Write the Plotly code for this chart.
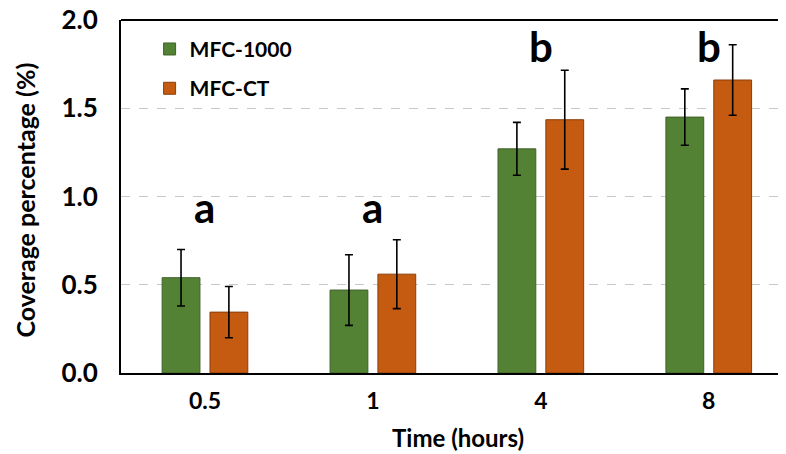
import plotly.graph_objects as go

categories = ["0.5", "1", "4", "8"]
mfc1000 = [0.54, 0.47, 1.27, 1.45]
mfc1000_err = [0.16, 0.20, 0.15, 0.16]
mfcct = [0.345, 0.56, 1.435, 1.66]
mfcct_err = [0.145, 0.195, 0.28, 0.20]
letters = ["a", "a", "b", "b"]
letter_y = [0.94, 0.94, 1.85, 1.85]

FONT = "Lato"

fig = go.Figure()
fig.add_trace(go.Bar(
    x=categories, y=mfc1000, name="MFC-1000", legendgroup="g1",
    marker=dict(color="#548235", line=dict(color="#3E6127", width=1)),
    error_y=dict(type="data", array=mfc1000_err, color="black", thickness=1.6, width=4),
))
fig.add_trace(go.Bar(
    x=categories, y=mfcct, name="MFC-CT", legendgroup="g2",
    marker=dict(color="#C55A11", line=dict(color="#8A3E0B", width=1)),
    error_y=dict(type="data", array=mfcct_err, color="black", thickness=1.6, width=4),
))

for i, (t, yv) in enumerate(zip(letters, letter_y)):
    fig.add_annotation(x=i, y=yv, text=f"<b>{t}</b>", showarrow=False,
                       xanchor="center", yanchor="middle",
                       font=dict(family=FONT, size=42, color="black"))

fig.add_annotation(xref="paper", yref="paper", x=-0.145, y=0.49,
                   xanchor="center", yanchor="middle", textangle=-90,
                   text="<b>Coverage percentage (%)</b>", showarrow=False,
                   font=dict(family=FONT, size=25, color="black"))
fig.add_annotation(xref="paper", yref="paper", x=0.507, y=-0.184,
                   xanchor="center", yanchor="middle",
                   text="<b>Time (hours)</b>", showarrow=False,
                   font=dict(family=FONT, size=24, color="black"))

fig.update_layout(
    width=778, height=446,
    margin=dict(l=113, r=0, t=12, b=81),
    paper_bgcolor="white", plot_bgcolor="white",
    barmode="group", bargap=0.43, bargroupgap=0.21,
    font=dict(family=FONT, color="black"),
    legend=dict(x=0.043, y=0.975, xanchor="left", yanchor="top",
                font=dict(family=FONT, size=21, color="black", weight="bold"),
                bgcolor="rgba(0,0,0,0)", traceorder="grouped", tracegroupgap=9,
                itemwidth=30),
    xaxis=dict(type="category", range=[-0.5, 3.46], showline=True, linecolor="black",
               linewidth=2, ticks="", automargin=False, ticklabelstandoff=6,
               tickfont=dict(family=FONT, size=23, color="black", weight="bold"),
               showgrid=False),
    yaxis=dict(range=[0, 2.0], dtick=0.5, tickformat=".1f", showline=True, linecolor="black",
               linewidth=2, ticks="", ticklabelstandoff=16, automargin=False,
               ticklabeloverflow="allow",
               tickfont=dict(family=FONT, size=26, color="black", weight="bold"),
               showgrid=True, gridcolor="#c8c8c8", griddash="dash", gridwidth=1,
               zeroline=False),
)
# top border
fig.add_shape(type="line", xref="paper", yref="paper", x0=0, x1=1, y0=1, y1=1,
              line=dict(color="black", width=2))

fig.write_html("out.html")
